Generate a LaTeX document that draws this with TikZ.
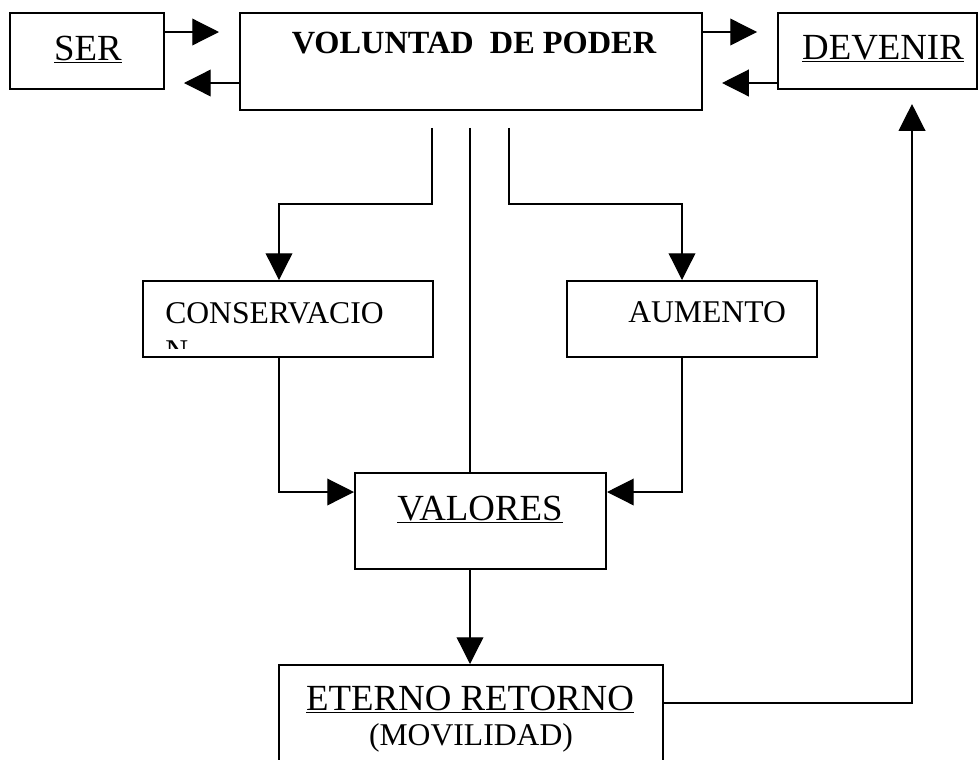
\documentclass[tikz,border=0pt]{standalone}
\usepackage{fontspec}
\setmainfont{Liberation Serif}
\usetikzlibrary{arrows.meta}

\tikzset{
  box/.style={draw, line width=1.4pt, inner sep=0pt, minimum height=1.9cm},
  conn/.style={line width=0.9pt},
  arr/.style={conn, -{Triangle[length=19pt,width=19pt]}},
  big/.style={font=\fontsize{26.2}{31}\selectfont, inner sep=0pt},
  mid/.style={font=\fontsize{22.5}{27}\selectfont, inner sep=0pt},
}

\begin{document}
\begin{tikzpicture}[x=0.025cm,y=-0.025cm]
\clip (0,0) rectangle (979,759);
% boxes
\node[box, minimum width=3.85cm] (ser) at (87,51) {};
\node[box, minimum width=11.55cm, minimum height=2.425cm] (vol) at (471,61.5) {};
\node[box, minimum width=4.975cm] (dev) at (877.5,51) {};
\node[box, minimum width=7.25cm] (cons) at (288,319) {};
\node[box, minimum width=6.25cm] (aum) at (692,319) {};
\node[box, minimum width=6.275cm, minimum height=2.4cm] (val) at (480.5,521) {};
\node[box, minimum width=9.6cm, minimum height=3.125cm] (ete) at (471,727.5) {};
% texts
\node[big, anchor=base] (serlbl) at (88,60) {\underline{SER}};
\node[mid, anchor=base] (vollbl) at (474,53) {\fontsize{23}{27}\selectfont\bfseries VOLUNTAD\ \ DE PODER};
\node[big, anchor=base] (devlbl) at (883,59) {\underline{DEVENIR}};
\begin{scope}
\clip (143,281) rectangle (433,348);
\node[mid, anchor=base west] (conslbl) at (165,323) {CONSERVACIO};
\node[mid, anchor=base west] (conslbl2) at (165,361) {N};
\end{scope}
\node[mid, anchor=base west] (aumlbl) at (628,322) {AUMENTO};
\node[big, anchor=base] (vallbl) at (480,520) {\underline{VALORES}};
\node[big, anchor=base] (etelbl) at (470,710) {\underline{ETERNO RETORNO}};
\node[mid, anchor=base] (movlbl) at (471,745) {(MOVILIDAD)};
% ser <-> vol <-> dev
\draw[arr, shorten >=14.2pt] (ser.east |- 0,32) -- (vol.west |- 0,32);
\draw[arr, shorten >=13.5pt] (vol.west |- 0,83) -- (ser.east |- 0,83);
\draw[arr, shorten >=14.2pt] (vol.east |- 0,32) -- (dev.west |- 0,32);
\draw[arr, shorten >=13.5pt] (dev.west |- 0,83) -- (vol.east |- 0,83);
% vol -> cons, aum, val
\coordinate (lbend) at (432,204);
\coordinate (rbend) at (509,204);
\draw[arr, shorten <=12pt] (lbend |- vol.south) -- (lbend) -| (279,0 |- cons.north);
\draw[conn, shorten <=12pt] (470,0 |- vol.south) -- (470,0 |- val.north);
\draw[arr, shorten <=12pt] (rbend |- vol.south) -- (rbend) -| (682,0 |- aum.north);
% cons, aum -> val
\draw[arr] (279,0 |- cons.south) |- (val.west |- 0,492);
\draw[arr] (682,0 |- aum.south) |- (val.east |- 0,492);
% val -> ete -> dev
\draw[arr] (470,0 |- val.south) -- (470,0 |- ete.north);
\draw[arr, shorten >=10pt] (ete.east |- 0,703) -| (912,0 |- dev.south);
\end{tikzpicture}
\end{document}
